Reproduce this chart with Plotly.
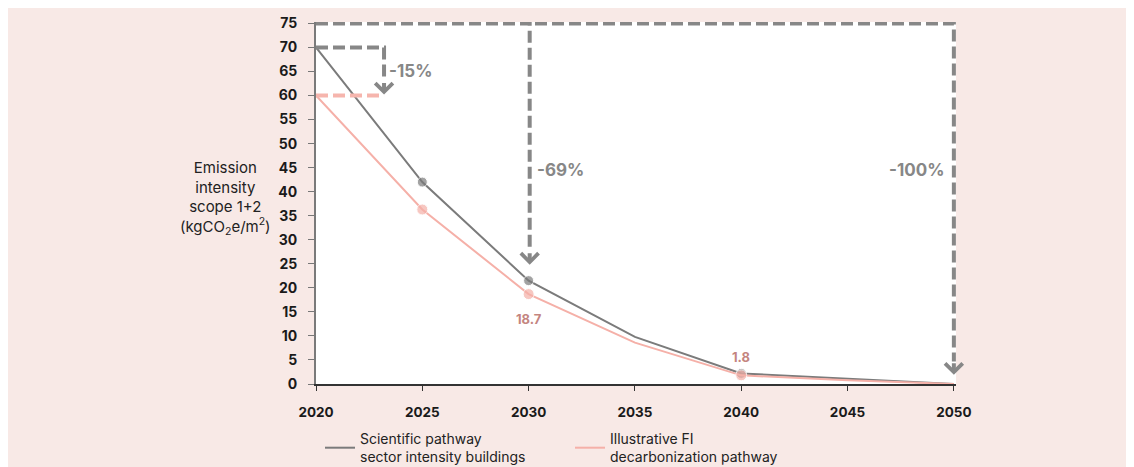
import plotly.graph_objects as go

# ---- data ----
years = [2020, 2025, 2030, 2035, 2040, 2045, 2050]
scientific = [70, 42, 21.5, 9.8, 2.2, 1.1, 0]
illustrative = [60, 36.3, 18.7, 8.6, 1.8, 0.8, 0]
marker_years_mask = [False, True, True, False, True, False, False]

x_ticks = [2020, 2025, 2030, 2035, 2040, 2045, 2050]
y_ticks = list(range(0, 80, 5))

series_names = ["Scientific pathway<br>sector intensity buildings",
                "Illustrative FI<br>decarbonization pathway"]

# reduction annotations: (start year, target year, start value, arrow tip value, label)
red15_from, red15_to, red15_top, red15_tip, red15_label = 2020, 2023.2, 70, 60.2, "-15%"
red69_from, red69_to, red69_top, red69_tip, red69_label = 2020, 2030.05, 75, 24.8, "-69%"
red100_from, red100_to, red100_top, red100_tip, red100_label = 2030.3, 2050, 75, 1.9, "-100%"
pink_ref_value = 60

value_labels = [(2030, 18.7, "18.7"), (2040, 1.8, "1.8")]

GRAY = "#7b7b7b"
DASH_GRAY = "#878787"
PINK = "#f5b0a8"
PINK_DASH = "#f6b5ad"
LABEL_ROSE = "#c4857f"
BG = "#f8e9e6"
FONT = "Inter"

fig = go.Figure()

sizes = [10 if m else 0 for m in marker_years_mask]

fig.add_trace(go.Scatter(
    x=years, y=scientific, mode="lines+markers", showlegend=False,
    line=dict(color=GRAY, width=2),
    marker=dict(size=sizes, color=GRAY),
    cliponaxis=False,
))
fig.add_trace(go.Scatter(
    x=years, y=illustrative, mode="lines+markers", showlegend=False,
    line=dict(color=PINK, width=2),
    marker=dict(size=[s * 1.1 for s in sizes], color=PINK),
    cliponaxis=False,
))
# legend-only entries (plain line symbols)
fig.add_trace(go.Scatter(x=[None], y=[None], mode="lines", name=series_names[0],
                         line=dict(color=GRAY, width=2)))
fig.add_trace(go.Scatter(x=[None], y=[None], mode="lines", name=series_names[1],
                         line=dict(color=PINK, width=2)))

# dashed reduction paths
def dashed(xs, ys, color):
    fig.add_trace(go.Scatter(
        x=xs, y=ys, mode="lines", showlegend=False, hoverinfo="skip",
        line=dict(color=color, width=4, dash="12px,5px"),
    ))

dashed([red15_from, red15_to, red15_to], [red15_top, red15_top, red15_tip + 2.8], DASH_GRAY)
dashed([2020, red15_to], [pink_ref_value, pink_ref_value], PINK_DASH)
dashed([red69_from, red69_to, red69_to], [red69_top, red69_top, red69_tip + 2.8], DASH_GRAY)
dashed([red100_from, red100_to, red100_to], [red100_top, red100_top, red100_tip + 2.8], DASH_GRAY)

# arrowheads (chevrons) via annotation arrows
for ax_x, ax_tip in [(red15_to, red15_tip), (red69_to, red69_tip), (red100_to, red100_tip)]:
    fig.add_annotation(x=ax_x, y=ax_tip, ax=0, ay=-13, axref="pixel", ayref="pixel",
                       text="", showarrow=True, arrowhead=4, arrowsize=0.85,
                       arrowwidth=4, arrowcolor=DASH_GRAY, standoff=0)

# percentage labels
pct_font = dict(family=FONT, size=17, color=DASH_GRAY, weight="bold")
fig.add_annotation(x=red15_to, y=65.2, text=red15_label, showarrow=False, xanchor="left",
                   xshift=3, font=pct_font)
fig.add_annotation(x=red69_to, y=44.6, text=red69_label, showarrow=False, xanchor="left",
                   xshift=5, font=pct_font)
fig.add_annotation(x=red100_to, y=44.6, text=red100_label, showarrow=False, xanchor="right",
                   xshift=-8, font=pct_font)

for xv, yv, t in value_labels:
    yshift = -25 if xv == 2030 else 18
    fig.add_annotation(x=xv, y=yv, text=t, showarrow=False, yshift=yshift,
                       font=dict(family=FONT, size=13, color=LABEL_ROSE, weight="bold"))

# y-axis title
fig.add_annotation(xref="paper", yref="paper", x=(217 - 308) / 640, y=(376 - 190) / 362,
                   xanchor="center", yanchor="middle",
                   text="Emission<br>intensity<br>scope 1+2<br>(kgCO<sub>2</sub>e/m<sup>2</sup>)",
                   showarrow=False, align="center",
                   font=dict(family=FONT, size=15, color="#222222"))

fig.update_layout(
    width=1126, height=459,
    margin=dict(l=308, r=178, t=14, b=83, autoexpand=False),
    paper_bgcolor=BG, plot_bgcolor="white",
    font=dict(family=FONT, color="#1a1a1a"),
    showlegend=True,
    legend=dict(orientation="h", xref="container", yref="container",
                x=312 / 1126, y=1 - 415 / 459, xanchor="left", yanchor="top",
                font=dict(family=FONT, size=14, color="#222222"),
                bgcolor="rgba(0,0,0,0)", entrywidth=205, itemwidth=30, tracegroupgap=0),
    xaxis=dict(range=[2020, 2050.1], tickvals=x_ticks, ticks="outside", ticklen=5,
               tickcolor="#333333", showgrid=False, zeroline=False, automargin=False,
               showline=True, linecolor="#333333", linewidth=1.5, ticklabelstandoff=10,
               tickfont=dict(family=FONT, size=13.5, color="#1a1a1a", weight="bold")),
    yaxis=dict(range=[0, 75.3], tickvals=y_ticks, ticks="outside", ticklen=6,
               tickcolor="#777777", showgrid=False, zeroline=False, automargin=False,
               showline=True, linecolor="#7a7a7a", linewidth=2, ticklabelstandoff=8,
               tickfont=dict(family=FONT, size=14, color="#1a1a1a", weight="bold")),
)

fig.write_html("out.html")
